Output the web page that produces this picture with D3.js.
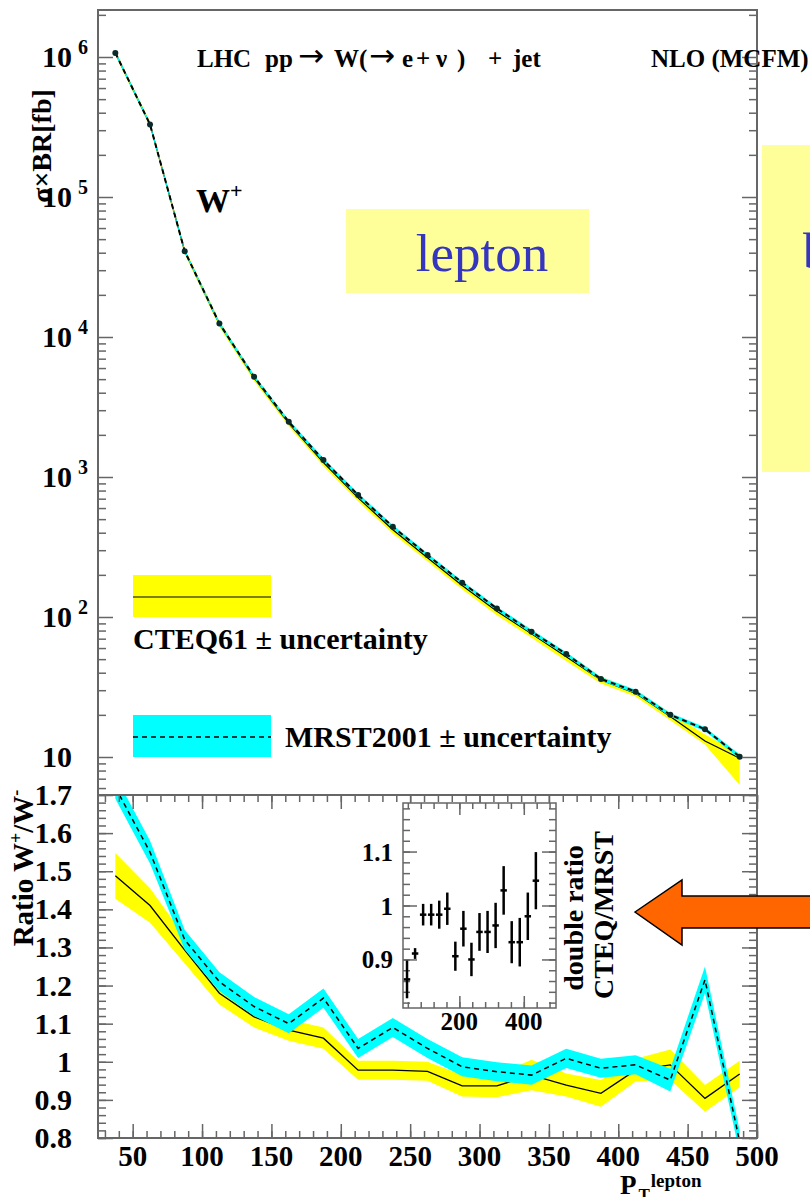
<!DOCTYPE html>
<html>
<head>
<meta charset="utf-8">
<script src="https://cdn.jsdelivr.net/npm/d3@7"></script>
<style>
  body { margin: 0; background: #fff; }
  svg text { font-family: "Liberation Serif", "Times New Roman", serif; font-weight: bold; fill: #000; }
</style>
</head>
<body>
<svg id="svg" width="810" height="1197"></svg>
<script>
// lepton pT bin centres [GeV]
var ptBins = [37.5, 62.5, 87.5, 112.5, 137.5, 162.5, 187.5, 212.5, 237.5, 262.5,
              287.5, 312.5, 337.5, 362.5, 387.5, 412.5, 437.5, 462.5, 487.5];

// W+ cross section x BR [fb]
var cteqXs   = [1.07e6, 3.3e5, 4.1e4, 1.24e4, 5.1e3, 2.42e3, 1270, 710, 420, 265, 168, 110, 76, 52, 35.5, 28.5, 19.5, 13.0, 9.8];
var cteqXsLo = [1.03e6, 3.15e5, 3.9e4, 1.18e4, 4.85e3, 2.3e3, 1200, 670, 395, 250, 158, 103, 71, 48.5, 33.5, 27, 18.3, 12.3, 6.3];
var cteqXsHi = [1.11e6, 3.45e5, 4.3e4, 1.3e4, 5.35e3, 2.54e3, 1340, 750, 445, 280, 178, 117, 81, 55.5, 37.5, 30, 20.7, 14.5, 10.6];
var mrstXs   = [1.07e6, 3.3e5, 4.1e4, 1.25e4, 5.2e3, 2.48e3, 1321, 743, 441, 277, 176, 115, 78.5, 54.4, 36.1, 29.3, 20.0, 15.8, 10.05];
var mrstXsLo = [1.04e6, 3.2e5, 3.98e4, 1.21e4, 5.05e3, 2.41e3, 1280, 720, 428, 269, 171, 111.5, 76, 52.8, 35, 28.4, 19.4, 15.3, 9.7];
var mrstXsHi = [1.10e6, 3.4e5, 4.22e4, 1.29e4, 5.36e3, 2.55e3, 1362, 766, 454, 285, 181, 118.5, 81, 56, 37.2, 30.2, 20.6, 16.3, 10.4];

// ratio W+/W-
var cteqRatio    = [1.488, 1.41, 1.293, 1.18, 1.118, 1.083, 1.062, 0.978, 0.978, 0.975, 0.937, 0.937, 0.965, 0.939, 0.917, 0.978, 0.992, 0.904, 0.968];
var cteqRatioErr = [0.06, 0.045, 0.035, 0.03, 0.028, 0.028, 0.028, 0.025, 0.025, 0.025, 0.028, 0.03, 0.04, 0.03, 0.035, 0.03, 0.04, 0.035, 0.035];
var mrstRatio    = [1.72, 1.55, 1.32, 1.21, 1.145, 1.10, 1.167, 1.035, 1.09, 1.035, 0.987, 0.974, 0.965, 1.009, 0.983, 0.992, 0.952, 1.215, 0.79];
var mrstRatioErr = [0.03, 0.03, 0.026, 0.025, 0.025, 0.025, 0.025, 0.025, 0.025, 0.025, 0.025, 0.025, 0.025, 0.025, 0.025, 0.025, 0.03, 0.035, 0.03];

// inset: double ratio CTEQ/MRST
var dblBins  = [37.5, 62.5, 87.5, 112.5, 137.5, 162.5, 187.5, 212.5, 237.5, 262.5, 287.5, 312.5, 337.5, 362.5, 387.5, 412.5, 437.5];
var dblRatio = [0.863, 0.911, 0.983, 0.983, 0.983, 0.994, 0.906, 0.957, 0.90, 0.951, 0.951, 0.963, 1.028, 0.932, 0.932, 0.98, 1.046];
var dblErr   = [0.035, 0.01, 0.02, 0.02, 0.026, 0.03, 0.027, 0.033, 0.031, 0.035, 0.039, 0.042, 0.045, 0.039, 0.045, 0.044, 0.053];

// axis labels
var xsTicks      = [10, 1e2, 1e3, 1e4, 1e5, 1e6];
var xsTickExp    = ["", "2", "3", "4", "5", "6"];
var ratioTicks   = [0.8, 0.9, 1.0, 1.1, 1.2, 1.3, 1.4, 1.5, 1.6, 1.7];
var ratioLabels  = ["0.8", "0.9", "1", "1.1", "1.2", "1.3", "1.4", "1.5", "1.6", "1.7"];
var ptTicks      = [50, 100, 150, 200, 250, 300, 350, 400, 450, 500];
var insetTicks   = [0.9, 1.0, 1.1];
var insetLabels  = ["0.9", "1", "1.1"];
var insetPtTicks = [200, 400];

var svg = d3.select("#svg");

// frame edges (note: "top" is taken by window.top)
var fLeft = 98, fRight = 757, fTop = 10, fMid = 795, fBottom = 1138;
var frameColor = "#666";

var x  = d3.scaleLinear().domain([25, 500]).range([fLeft, fRight]);
var y  = d3.scaleLog().domain([10, 1e6]).range([757, 57]);
var yR = d3.scaleLinear().domain([0.8, 1.7]).range([fBottom, fMid]);
var xI = d3.scaleLinear().domain([25, 500]).range([403, 556]);
var yI = d3.scaleLinear().domain([0.81, 1.19]).range([1008, 803]);

var defs = svg.append("defs");
defs.append("clipPath").attr("id", "clipUp")
  .append("rect").attr("x", fLeft).attr("y", fTop).attr("width", fRight - fLeft).attr("height", fMid - fTop);
defs.append("clipPath").attr("id", "clipLow")
  .append("rect").attr("x", fLeft).attr("y", fMid).attr("width", fRight - fLeft).attr("height", fBottom - fMid);

function tickAxis(g, axisFn, scale, values, size) {
  g.call(axisFn(scale).tickValues(values).tickSize(size).tickFormat(""))
   .call(function(s) { s.select(".domain").remove(); })
   .selectAll("line").attr("stroke", frameColor).attr("stroke-width", 1.5);
}

// ---------- side annotations (behind) ----------
svg.append("rect").attr("x", 346).attr("y", 209).attr("width", 243).attr("height", 84).attr("fill", "#ffff99");
svg.append("text").attr("x", 482).attr("y", 271).attr("text-anchor", "middle")
  .style("font-weight", "normal").style("font-size", "53px").style("fill", "#3535c0").text("lepton");
svg.append("rect").attr("x", 762).attr("y", 145).attr("width", 60).attr("height", 327).attr("fill", "#ffff99");
svg.append("text").attr("x", 803).attr("y", 268)
  .style("font-weight", "normal").style("font-size", "50px").style("fill", "#3535c0").text("boson");

// ---------- upper panel ----------
var rows = ptBins.map(function(p, i) {
  return { pt: p, c: cteqXs[i], cLo: cteqXsLo[i], cHi: cteqXsHi[i], m: mrstXs[i], mLo: mrstXsLo[i], mHi: mrstXsHi[i],
           rc: cteqRatio[i], rcE: cteqRatioErr[i], rm: mrstRatio[i], rmE: mrstRatioErr[i] };
});

var up = svg.append("g").attr("clip-path", "url(#clipUp)");
up.append("path").datum(rows).attr("fill", "#ffff00")
  .attr("d", d3.area().x(function(d) { return x(d.pt); }).y0(function(d) { return y(d.cLo); }).y1(function(d) { return y(d.cHi); }));
up.append("path").datum(rows).attr("fill", "none").attr("stroke", "#000").attr("stroke-width", 1.2)
  .attr("d", d3.line().x(function(d) { return x(d.pt); }).y(function(d) { return y(d.c); }));
up.append("path").datum(rows).attr("fill", "#00ffff")
  .attr("d", d3.area().x(function(d) { return x(d.pt); }).y0(function(d) { return y(d.mLo); }).y1(function(d) { return y(d.mHi); }));
up.append("path").datum(rows).attr("fill", "none").attr("stroke", "#000").attr("stroke-width", 2)
  .attr("stroke-dasharray", "5,4")
  .attr("d", d3.line().x(function(d) { return x(d.pt); }).y(function(d) { return y(d.m); }));
up.selectAll("circle").data(rows).join("circle")
  .attr("cx", function(d) { return x(d.pt); }).attr("cy", function(d) { return y(d.m); })
  .attr("r", 3).attr("fill", "#0b2a2a");

// upper y ticks (log)
var yVis = d3.scaleLog().domain([y.invert(fMid), y.invert(fTop)]);
var allLog = yVis.ticks();
var logMajor = allLog.filter(function(v) { return Math.abs(Math.log10(v) - Math.round(Math.log10(v))) < 1e-9; });
var logMinor = allLog.filter(function(v) { return logMajor.indexOf(v) < 0; });
svg.append("g").attr("transform", "translate(" + fLeft + ",0)").call(tickAxis, d3.axisRight, y, logMajor, 15);
svg.append("g").attr("transform", "translate(" + fLeft + ",0)").call(tickAxis, d3.axisRight, y, logMinor, 8);
svg.append("g").attr("transform", "translate(" + fRight + ",0)").call(tickAxis, d3.axisLeft, y, logMajor, 15);
svg.append("g").attr("transform", "translate(" + fRight + ",0)").call(tickAxis, d3.axisLeft, y, logMinor, 8);

svg.append("rect").attr("x", fLeft).attr("y", fTop).attr("width", fRight - fLeft).attr("height", fMid - fTop)
  .attr("fill", "none").attr("stroke", frameColor).attr("stroke-width", 2);

svg.selectAll("text.ybase").data(xsTicks).join("text").attr("class", "ybase")
  .attr("x", 72).attr("y", function(d) { return y(d) + 10; }).attr("text-anchor", "end")
  .style("font-size", "30px").text("10");
svg.selectAll("text.yexp").data(xsTicks).join("text").attr("class", "yexp")
  .attr("x", 78).attr("y", function(d) { return y(d) - 3; })
  .style("font-size", "20px").text(function(d, i) { return xsTickExp[i]; });

svg.append("text").attr("transform", "translate(51,146) rotate(-90)").attr("text-anchor", "middle")
  .style("font-size", "28px").text("σ×BR[fb]");

// title
var title = [["LHC", 197], ["pp", 265], ["W(", 334], ["e", 402], ["+", 416], ["ν", 436], [")", 457], ["+", 488], ["jet", 513], ["NLO (MCFM)", 651]];
svg.selectAll("text.title").data(title).join("text").attr("class", "title")
  .attr("x", function(d) { return d[1]; }).attr("y", 67).style("font-size", "25px")
  .text(function(d) { return d[0]; });
svg.selectAll("text.arrow").data([298, 369]).join("text").attr("class", "arrow")
  .attr("x", function(d) { return d; }).attr("y", 66)
  .style("font-family", "DejaVu Sans").style("font-weight", "normal").style("font-size", "31px").text("→");

var wp = svg.append("text").attr("x", 196).attr("y", 212).style("font-size", "34px");
wp.append("tspan").text("W");
wp.append("tspan").attr("dy", -14).style("font-size", "22px").text("+");

// legend
svg.append("rect").attr("x", 133).attr("y", 575).attr("width", 138).attr("height", 42).attr("fill", "#ffff00");
svg.append("line").attr("x1", 133).attr("x2", 271).attr("y1", 597).attr("y2", 597).attr("stroke", "#000").attr("stroke-width", 1.2);
svg.append("text").attr("x", 133).attr("y", 649).style("font-size", "30px").text("CTEQ61 ± uncertainty");
svg.append("rect").attr("x", 133).attr("y", 715).attr("width", 138).attr("height", 42).attr("fill", "#00ffff");
svg.append("line").attr("x1", 133).attr("x2", 271).attr("y1", 737).attr("y2", 737).attr("stroke", "#000")
  .attr("stroke-width", 1.5).attr("stroke-dasharray", "5,4");
svg.append("text").attr("x", 285).attr("y", 747).style("font-size", "30px").text("MRST2001 ± uncertainty");

// ---------- lower panel ----------
var low = svg.append("g").attr("clip-path", "url(#clipLow)");
low.append("path").datum(rows).attr("fill", "#ffff00")
  .attr("d", d3.area().x(function(d) { return x(d.pt); })
    .y0(function(d) { return yR(d.rc - d.rcE); }).y1(function(d) { return yR(d.rc + d.rcE); }));
low.append("path").datum(rows).attr("fill", "none").attr("stroke", "#000").attr("stroke-width", 1.3)
  .attr("d", d3.line().x(function(d) { return x(d.pt); }).y(function(d) { return yR(d.rc); }));
low.append("path").datum(rows).attr("fill", "#00ffff")
  .attr("d", d3.area().x(function(d) { return x(d.pt); })
    .y0(function(d) { return yR(d.rm - d.rmE); }).y1(function(d) { return yR(d.rm + d.rmE); }));
low.append("path").datum(rows).attr("fill", "none").attr("stroke", "#000").attr("stroke-width", 1.5)
  .attr("stroke-dasharray", "5,4")
  .attr("d", d3.line().x(function(d) { return x(d.pt); }).y(function(d) { return yR(d.rm); }));

var rMinor = yR.ticks(45);
var xMinor = x.ticks(48);
svg.append("g").attr("transform", "translate(" + fLeft + ",0)").call(tickAxis, d3.axisRight, yR, ratioTicks, 15);
svg.append("g").attr("transform", "translate(" + fLeft + ",0)").call(tickAxis, d3.axisRight, yR, rMinor, 8);
svg.append("g").attr("transform", "translate(" + fRight + ",0)").call(tickAxis, d3.axisLeft, yR, ratioTicks, 15);
svg.append("g").attr("transform", "translate(" + fRight + ",0)").call(tickAxis, d3.axisLeft, yR, rMinor, 8);
svg.append("g").attr("transform", "translate(0," + fBottom + ")").call(tickAxis, d3.axisTop, x, ptTicks, 14);
svg.append("g").attr("transform", "translate(0," + fBottom + ")").call(tickAxis, d3.axisTop, x, xMinor, 7);
svg.append("g").attr("transform", "translate(0," + fMid + ")").call(tickAxis, d3.axisBottom, x, ptTicks, 14);
svg.append("g").attr("transform", "translate(0," + fMid + ")").call(tickAxis, d3.axisBottom, x, xMinor, 7);

svg.append("rect").attr("x", fLeft).attr("y", fMid).attr("width", fRight - fLeft).attr("height", fBottom - fMid)
  .attr("fill", "none").attr("stroke", frameColor).attr("stroke-width", 2);

svg.selectAll("text.rlab").data(ratioTicks).join("text").attr("class", "rlab")
  .attr("x", 72).attr("y", function(d) { return yR(d) + 10; }).attr("text-anchor", "end")
  .style("font-size", "30px").text(function(d, i) { return ratioLabels[i]; });
svg.selectAll("text.xlab").data(ptTicks).join("text").attr("class", "xlab")
  .attr("x", function(d) { return x(d); }).attr("y", 1166).attr("text-anchor", "middle")
  .style("font-size", "29px").text(function(d) { return d; });

var rt = svg.append("text").attr("transform", "translate(33,868) rotate(-90)").attr("text-anchor", "middle")
  .style("font-size", "29px");
rt.append("tspan").text("Ratio W");
rt.append("tspan").attr("dy", -11).style("font-size", "18px").text("+");
rt.append("tspan").attr("dy", 11).text("/W");
rt.append("tspan").attr("dy", -11).style("font-size", "18px").text("-");

var xt = svg.append("text").attr("x", 620).attr("y", 1194).style("font-size", "27px");
xt.append("tspan").text("P");
xt.append("tspan").attr("dx", 2).attr("dy", 6).style("font-size", "17px").text("T");
xt.append("tspan").attr("dx", 1).attr("dy", -13).style("font-size", "19px").text("lepton");

// ---------- inset ----------
svg.append("rect").attr("x", 403).attr("y", 803).attr("width", 153).attr("height", 205).attr("fill", "#fff");
var iyMinor = yI.ticks(19);
var ixMinor = d3.range(40, 500, 40);
svg.append("g").attr("transform", "translate(403,0)").call(tickAxis, d3.axisRight, yI, insetTicks, 14);
svg.append("g").attr("transform", "translate(403,0)").call(tickAxis, d3.axisRight, yI, iyMinor, 7);
svg.append("g").attr("transform", "translate(556,0)").call(tickAxis, d3.axisLeft, yI, insetTicks, 14);
svg.append("g").attr("transform", "translate(556,0)").call(tickAxis, d3.axisLeft, yI, iyMinor, 7);
svg.append("g").attr("transform", "translate(0,1008)").call(tickAxis, d3.axisTop, xI, insetPtTicks, 12);
svg.append("g").attr("transform", "translate(0,1008)").call(tickAxis, d3.axisTop, xI, ixMinor, 6);
svg.append("g").attr("transform", "translate(0,803)").call(tickAxis, d3.axisBottom, xI, insetPtTicks, 12);
svg.append("g").attr("transform", "translate(0,803)").call(tickAxis, d3.axisBottom, xI, ixMinor, 6);
svg.append("rect").attr("x", 403).attr("y", 803).attr("width", 153).attr("height", 205)
  .attr("fill", "none").attr("stroke", frameColor).attr("stroke-width", 1.5);

var dbl = dblBins.map(function(p, i) { return { pt: p, v: dblRatio[i], e: dblErr[i] }; });
var pts = svg.append("g").attr("stroke", "#000").attr("stroke-width", 2.5);
pts.selectAll("line.ev").data(dbl).join("line").attr("class", "ev")
  .attr("x1", function(d) { return xI(d.pt); }).attr("x2", function(d) { return xI(d.pt); })
  .attr("y1", function(d) { return yI(d.v - d.e); }).attr("y2", function(d) { return yI(d.v + d.e); });
pts.selectAll("line.eh").data(dbl).join("line").attr("class", "eh")
  .attr("x1", function(d) { return xI(d.pt - 10); }).attr("x2", function(d) { return xI(d.pt + 10); })
  .attr("y1", function(d) { return yI(d.v); }).attr("y2", function(d) { return yI(d.v); });

svg.selectAll("text.ilab").data(insetTicks).join("text").attr("class", "ilab")
  .attr("x", 393).attr("y", function(d) { return yI(d) + 9; }).attr("text-anchor", "end")
  .style("font-size", "25px").text(function(d, i) { return insetLabels[i]; });
svg.selectAll("text.ixlab").data(insetPtTicks).join("text").attr("class", "ixlab")
  .attr("x", function(d) { return xI(d); }).attr("y", 1030).attr("text-anchor", "middle")
  .style("font-size", "25px").text(function(d) { return d; });
svg.append("text").attr("transform", "translate(583,918) rotate(-90)").attr("text-anchor", "middle")
  .style("font-size", "28px").text("double ratio");
svg.append("text").attr("transform", "translate(613,915) rotate(-90)").attr("text-anchor", "middle")
  .style("font-size", "28px").text("CTEQ/MRST");

// arrow pointing at the inset
svg.append("polygon")
  .attr("points", "635,912 682,880 682,896 815,896 815,928 682,928 682,945")
  .attr("fill", "#ff6600").attr("stroke", "#000").attr("stroke-width", 1.5);
</script>
</body>
</html>
